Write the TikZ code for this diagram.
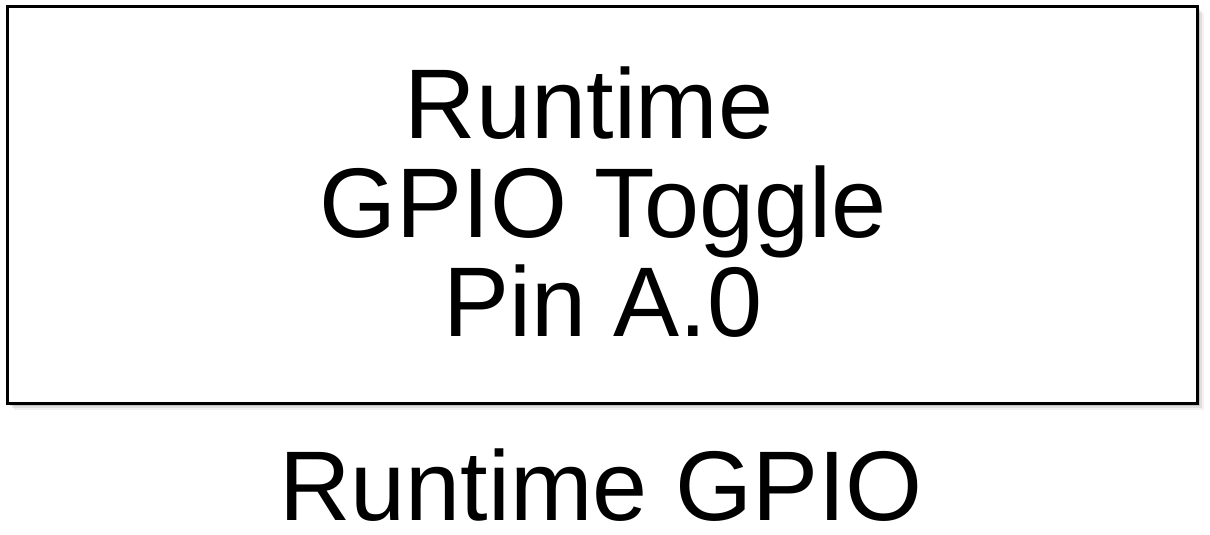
\documentclass[tikz,border=0pt]{standalone}
\usepackage{fontspec}
\setmainfont{Liberation Sans}
\begin{document}
\begin{tikzpicture}[x=1pt,y=-1pt,
  boxframe/.style={draw=black, line width=3pt, fill=white},
  bigtext/.style={font=\fontsize{99}{99}\selectfont, inner sep=0pt, align=center}]
\useasboundingbox (0,0) rectangle (1210,535);
\fill[white] (0,0) rectangle (1210,535);
% soft shadow
\foreach \d/\o in {8/0.05,6/0.08,4/0.12,2.5/0.15}{
  \fill[black, opacity=\o] (5.5+\d,5.5+\d) rectangle (1195.5+\d,401.5+\d);
}
\node[boxframe, minimum width=1190pt, minimum height=396pt, inner sep=0pt, anchor=north west] (box) at (5.5,5.5) {};
\node[bigtext] (boxtext) at (603,202) {Runtime\hspace*{0.278em}\\GPIO Toggle\\Pin A.0};
\node[bigtext, anchor=base] (caption) at (601,520) {Runtime GPIO};
\end{tikzpicture}
\end{document}
